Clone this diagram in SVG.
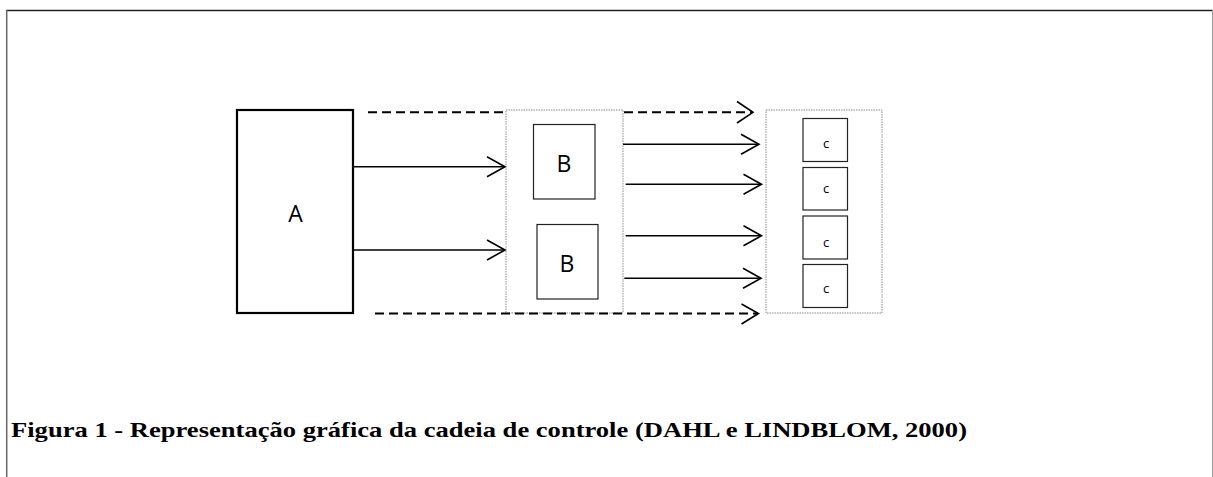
<svg xmlns="http://www.w3.org/2000/svg" width="1213" height="477" viewBox="0 0 1213 477">
<style>
.box{fill:#fff;stroke:#222;stroke-width:1.2}
.cont{fill:#fff;stroke:#8a8a8a;stroke-width:1;stroke-dasharray:1.5 1}
.lbl{font-family:"Open Sans","Noto Sans",sans-serif;fill:#000;text-anchor:middle}
.big{font-size:23px}
.small{font-size:13px}
.ln{fill:none;stroke:#000;stroke-width:1.6}
.dash{fill:none;stroke:#000;stroke-width:2;stroke-dasharray:9 5}
.head{fill:none;stroke:#000;stroke-width:1.6;stroke-linejoin:miter}
.cap{font-family:"Liberation Serif","Times New Roman",serif;font-weight:bold;font-size:21px;fill:#000}
</style>
<rect width="1213" height="477" fill="#fff"/>
<g id="frame">
<line x1="6" y1="10.5" x2="1213" y2="10.5" stroke="#222" stroke-width="1.4"/>
<line x1="6.7" y1="10" x2="6.7" y2="477" stroke="#666" stroke-width="1.5"/>
<line x1="1212.5" y1="10" x2="1212.5" y2="477" stroke="#999" stroke-width="1"/>
</g>
<g id="containerB">
<rect class="cont" x="506" y="110" width="117" height="203"/>
</g>
<g id="containerC">
<rect class="cont" x="766" y="110" width="116" height="203"/>
</g>
<g id="nodeA">
<rect x="237" y="110" width="116" height="203" fill="#fff" stroke="#000" stroke-width="2.2"/>
<text class="lbl big" x="295.5" y="222">A</text>
</g>
<g id="nodeB1">
<rect class="box" x="533.5" y="124.5" width="61.5" height="74.5"/>
<text class="lbl big" x="564" y="172">B</text>
</g>
<g id="nodeB2">
<rect class="box" x="537" y="224.5" width="61" height="74.5"/>
<text class="lbl big" x="567" y="272">B</text>
</g>
<g id="nodeC1">
<rect class="box" x="803" y="118.5" width="44.5" height="43"/>
<text class="lbl small" x="826" y="148">c</text>
</g>
<g id="nodeC2">
<rect class="box" x="803" y="167.5" width="44.5" height="42.5"/>
<text class="lbl small" x="826" y="192.5">c</text>
</g>
<g id="nodeC3">
<rect class="box" x="803" y="216" width="44.5" height="43"/>
<text class="lbl small" x="826" y="246.5">c</text>
</g>
<g id="nodeC4">
<rect class="box" x="803" y="264.5" width="44.5" height="43"/>
<text class="lbl small" x="826" y="293">c</text>
</g>
<g id="connectors">
<line class="dash" x1="368" y1="112.3" x2="506" y2="112.3"/>
<line class="dash" x1="624" y1="112.3" x2="752" y2="112.3"/>
<polyline class="head" points="737,101.5 753,112.3 737,123"/>
<line class="dash" x1="375" y1="313.5" x2="757" y2="313.5"/>
<polyline class="head" points="741.5,304 758.5,313.5 741.5,324"/>
<line class="ln" x1="353" y1="166.7" x2="504" y2="166.7"/>
<polyline class="head" points="487,156.7 505,166.7 487,176.7"/>
<line class="ln" x1="353" y1="250" x2="504" y2="250"/>
<polyline class="head" points="487,240 505,250 487,260"/>
<line class="ln" x1="623" y1="144.3" x2="758" y2="144.3"/>
<polyline class="head" points="741,134.3 759,144.3 741,154.3"/>
<line class="ln" x1="625.7" y1="184.3" x2="761" y2="184.3"/>
<polyline class="head" points="743.5,174.3 761.5,184.3 743.5,194.3"/>
<line class="ln" x1="625.7" y1="235.7" x2="761" y2="235.7"/>
<polyline class="head" points="743.5,225.7 761.5,235.7 743.5,245.7"/>
<line class="ln" x1="624.3" y1="278.3" x2="760" y2="278.3"/>
<polyline class="head" points="743,268.3 761,278.3 743,288.3"/>
</g>
<text class="cap" x="11" y="437.3" textLength="956" lengthAdjust="spacingAndGlyphs">Figura 1 - Representação gráfica da cadeia de controle (DAHL e LINDBLOM, 2000)</text>
</svg>
